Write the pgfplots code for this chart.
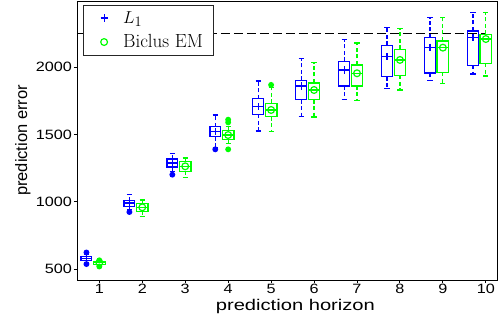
\documentclass[border=0pt]{standalone}
\usepackage{fontspec}
\usepackage{pgfplots}
\pgfplotsset{compat=1.18}
\usepgfplotslibrary{statistics}
\newfontfamily\axfontfam[FakeStretch=1.2]{Liberation Sans}
\newfontfamily\xlfontfam[FakeStretch=1.3]{Liberation Sans}
\newfontfamily\ylfontfam{Liberation Sans}
\newcommand{\tickfont}{\axfontfam\fontsize{13.5}{15}\selectfont}
\newcommand{\xlfont}{\xlfontfam\fontsize{15.5}{18}\selectfont}
\newcommand{\ylfont}{\ylfontfam\fontsize{16.5}{19}\selectfont}
\definecolor{mblue}{rgb}{0,0,1}
\definecolor{mgreen}{rgb}{0,1,0}
\pgfplotsset{
  /pgfplots/boxplot/draw/whisker/.code 2 args={
    \draw[/pgfplots/boxplot/every whisker/.try, dash pattern=on 4pt off 2.5pt]
      (boxplot cs:#1) -- (boxplot cs:#2);
    \draw[/pgfplots/boxplot/every whisker/.try]
      (boxplot whisker cs:#2,0) -- (boxplot whisker cs:#2,1);
  },
  bbox/.style={mblue, line width=1.2pt, solid, mark=*, mark size=2.3pt,
    mark options={solid, fill=mblue}, forget plot,
    boxplot/box extend=0.25, boxplot/whisker extend=0.12},
  gbox/.style={mgreen, line width=1.2pt, solid, mark=*, mark size=2.3pt,
    mark options={solid, fill=mgreen}, forget plot,
    boxplot/box extend=0.27, boxplot/whisker extend=0.12},
  meanleg/.style={legend image code/.code={
    \path[draw=none, fill=none] (0pt,-4pt) rectangle (30pt,4pt);
    \draw[##1] plot coordinates {(17pt,0pt)};}},
}
\begin{document}
\begin{tikzpicture}
\begin{axis}[
  boxplot/draw direction=y,
  scale only axis, width=420pt, height=279pt,
  xmin=0.48, xmax=10.26, ymin=421, ymax=2490,
  xtick={1,2,3,4,5,6,7,8,9,10}, ytick={500,1000,1500,2000},
  tick align=outside, xtick pos=bottom, ytick pos=left, major tick length=3pt,
  axis line style={line width=0.9pt},
  every tick/.style={line width=0.9pt, black},
  /pgf/number format/assume math mode=true,
  /pgf/number format/1000 sep={},
  ticklabel style={font=\tickfont},
  xticklabel style={inner sep=1pt},
  yticklabel style={inner sep=2pt},
  xlabel={prediction horizon}, ylabel={prediction error},
  xlabel style={font=\xlfont, at={(axis description cs:0.52,-0.111)}, anchor=base},
  ylabel style={font=\ylfont, at={(axis description cs:-0.119,0.5)}, anchor=base},
  legend style={at={(axis description cs:0.0136,0.9857)}, anchor=north west,
    draw=black!85, line width=0.8pt, fill=white,
    font=\rmfamily\fontsize{19}{22}\selectfont, cells={anchor=west},
    inner xsep=4pt, inner ysep=4pt, row sep=6pt,
    nodes={inner xsep=6pt, inner ysep=2pt}},
]
\addplot[black, line width=1.2pt, dash pattern=on 9pt off 4pt, forget plot]
  coordinates {(0.5,2250) (10.0,2250)};
% ---- L1 (blue) boxes at k-0.3
\addplot[bbox, boxplot prepared={draw position=0.7, lower whisker=550, lower quartile=563, median=578, upper quartile=598, upper whisker=612}]
  coordinates {(0.7,625) (0.7,539)};
\addplot[bbox, boxplot prepared={draw position=1.7, lower whisker=945, lower quartile=967, median=992, upper quartile=1009, upper whisker=1053}]
  coordinates {(1.7,925)};
\addplot[bbox, boxplot prepared={draw position=2.7, lower whisker=1225, lower quartile=1259, median=1289, upper quartile=1318, upper whisker=1358}]
  coordinates {(2.7,1202)};
\addplot[bbox, boxplot prepared={draw position=3.7, lower whisker=1405, lower quartile=1484, median=1521, upper quartile=1558, upper whisker=1645}]
  coordinates {(3.7,1390)};
\addplot[bbox, boxplot prepared={draw position=4.7, lower whisker=1526, lower quartile=1650, median=1706, upper quartile=1765, upper whisker=1897}]
  coordinates {};
\addplot[bbox, boxplot prepared={draw position=5.7, lower whisker=1635, lower quartile=1758, median=1860, upper quartile=1902, upper whisker=2062}]
  coordinates {};
\addplot[bbox, boxplot prepared={draw position=6.7, lower whisker=1758, lower quartile=1860, median=1978, upper quartile=2043, upper whisker=2206}]
  coordinates {};
\addplot[bbox, boxplot prepared={draw position=7.7, lower whisker=1843, lower quartile=1929, median=2077, upper quartile=2162, upper whisker=2295}]
  coordinates {};
\addplot[bbox, boxplot prepared={draw position=8.7, lower whisker=1899, lower quartile=1956, median=2147, upper quartile=2218, upper whisker=2366}]
  coordinates {};
\addplot[bbox, boxplot prepared={draw position=9.7, lower whisker=1949, lower quartile=2013, median=2218, upper quartile=2268, upper whisker=2406}]
  coordinates {};
% ---- Biclus EM (green) boxes at k
\addplot[gbox, boxplot prepared={draw position=1, lower whisker=530, lower quartile=537, median=548, upper quartile=558, upper whisker=562}]
  coordinates {(1,567) (1,521)};
\addplot[gbox, boxplot prepared={draw position=2, lower whisker=893, lower quartile=930, median=960, upper quartile=987, upper whisker=1014}]
  coordinates {};
\addplot[gbox, boxplot prepared={draw position=3, lower whisker=1182, lower quartile=1228, median=1264, upper quartile=1301, upper whisker=1326}]
  coordinates {};
\addplot[gbox, boxplot prepared={draw position=4, lower whisker=1435, lower quartile=1464, median=1496, upper quartile=1528, upper whisker=1560}]
  coordinates {(4,1590) (4,1610) (4,1390)};
\addplot[gbox, boxplot prepared={draw position=5, lower whisker=1521, lower quartile=1632, median=1682, upper quartile=1731, upper whisker=1850}]
  coordinates {(5,1868)};
\addplot[gbox, boxplot prepared={draw position=6, lower whisker=1630, lower quartile=1758, median=1830, upper quartile=1882, upper whisker=2033}]
  coordinates {};
\addplot[gbox, boxplot prepared={draw position=7, lower whisker=1754, lower quartile=1860, median=1954, upper quartile=2016, upper whisker=2179}]
  coordinates {};
\addplot[gbox, boxplot prepared={draw position=8, lower whisker=1830, lower quartile=1939, median=2053, upper quartile=2132, upper whisker=2288}]
  coordinates {};
\addplot[gbox, boxplot prepared={draw position=9, lower whisker=1877, lower quartile=1961, median=2144, upper quartile=2194, upper whisker=2366}]
  coordinates {};
\addplot[gbox, boxplot prepared={draw position=10, lower whisker=1934, lower quartile=2028, median=2208, upper quartile=2243, upper whisker=2404}]
  coordinates {};
% ---- mean markers
\addplot[only marks, mblue, mark=+, mark size=3.6pt, line width=1.2pt, meanleg]
  coordinates {(0.7,578) (1.7,992) (2.7,1289) (3.7,1521) (4.7,1706) (5.7,1860) (6.7,1978) (7.7,2077) (8.7,2147) (9.7,2218)};
\addlegendentry{$L_1$}
\addplot[only marks, mgreen, mark=o, mark size=3.4pt, line width=1.2pt, meanleg]
  coordinates {(1,550) (2,960) (3,1264) (4,1496) (5,1682) (6,1830) (7,1954) (8,2053) (9,2144) (10,2208)};
\addlegendentry{Biclus EM}
\coordinate (ll) at (rel axis cs:0,0);
\coordinate (ur) at (rel axis cs:1,1);
\end{axis}
\pgfresetboundingbox
\path ([shift={(-77pt,-44pt)}]ll) rectangle ([shift={(1pt,1pt)}]ur);
\end{tikzpicture}
\end{document}
